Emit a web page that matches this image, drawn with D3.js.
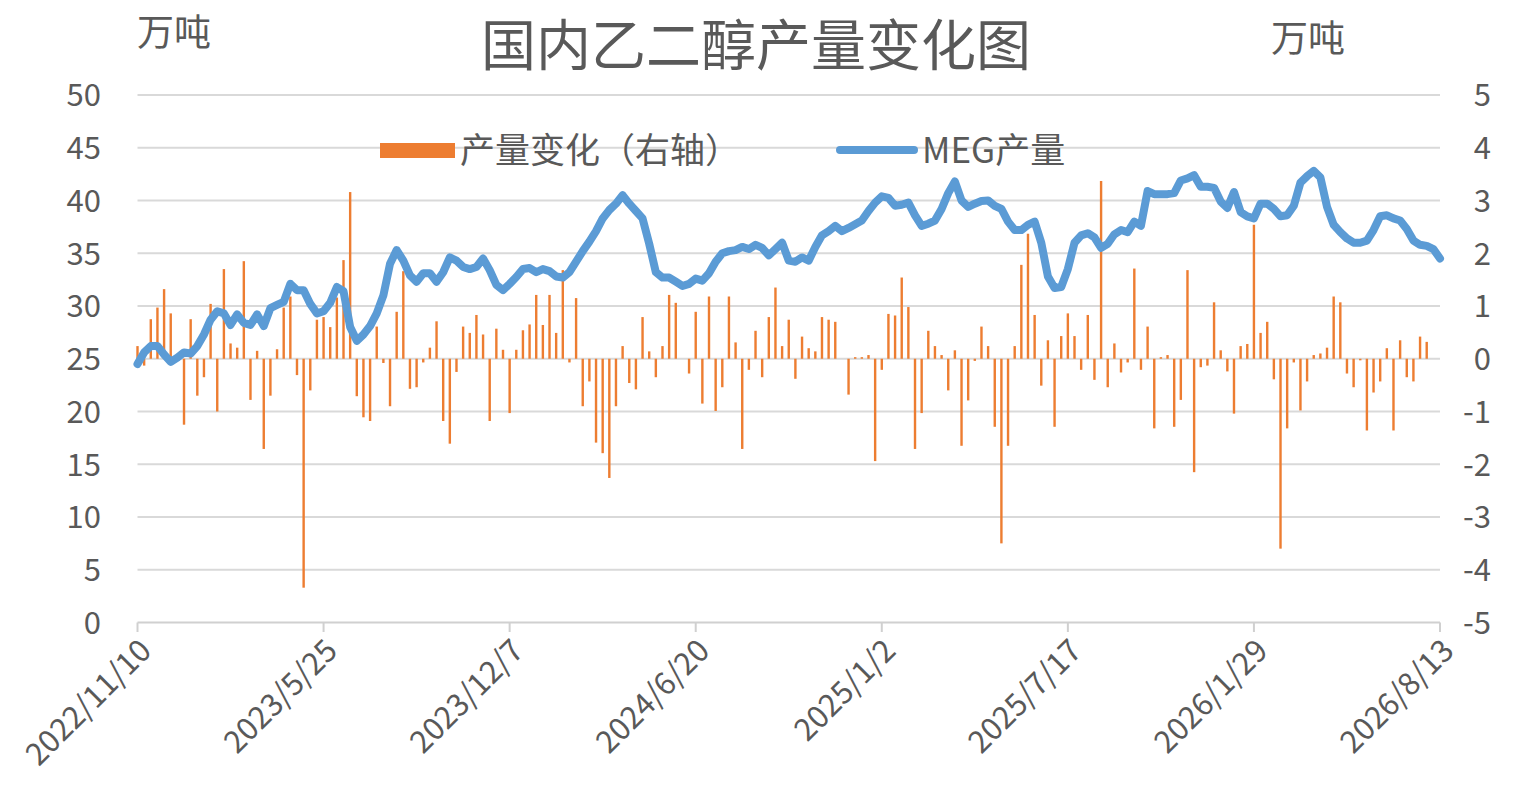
<!DOCTYPE html>
<html><head><meta charset="utf-8">
<script src="https://cdn.jsdelivr.net/npm/d3@7"></script>
<style>
html,body{margin:0;padding:0;background:#fff;}
text{font-family:"Noto Sans CJK SC","Microsoft YaHei",sans-serif;fill:#595959;}
</style></head>
<body><svg id="c" width="1514" height="796"></svg>
<script>
const tickLabels = ["2022/11/10","2023/5/25","2023/12/7","2024/6/20","2025/1/2","2025/7/17","2026/1/29","2026/8/13"];
const tickIndex = [0,28,56,84,112,140,168,196];
const leftTicks = [0,5,10,15,20,25,30,35,40,45,50];
const rightTicks = [-5,-4,-3,-2,-1,0,1,2,3,4,5];

// MEG production (万吨, left axis), weekly
const megOutput = [
24.5,25.6,26.2,26.2,25.4,24.7,25.1,25.6,25.5,26.2,
27.3,28.7,29.5,29.3,28.2,29.2,28.4,28.2,29.2,28.1,
29.8,30.1,30.4,32.1,31.5,31.5,30.2,29.3,29.5,30.3,
31.8,31.4,28.0,26.7,27.3,28.1,29.3,31.0,34.0,35.3,
34.3,32.9,32.3,33.1,33.1,32.3,33.2,34.6,34.3,33.7,
33.5,33.7,34.5,33.4,32.0,31.5,32.1,32.75,33.5,33.6,
33.2,33.5,33.3,32.8,32.7,33.2,34.2,35.2,36.1,37.1,
38.3,39.1,39.7,40.5,39.7,39.0,38.3,35.9,33.2,32.7,
32.7,32.3,31.9,32.1,32.6,32.4,33.1,34.2,35.0,35.2,
35.3,35.6,35.4,35.8,35.5,34.8,35.4,36.0,34.3,34.2,
34.6,34.3,35.6,36.7,37.1,37.6,37.1,37.4,37.75,38.1,
39.0,39.8,40.4,40.25,39.5,39.6,39.8,38.6,37.6,37.8,
38.1,39.2,40.7,41.8,40.0,39.4,39.7,39.95,40.0,39.5,
39.2,38.0,37.2,37.2,37.7,38.0,36.0,32.8,31.7,31.8,
33.5,36.0,36.7,36.9,36.5,35.5,35.9,36.8,37.2,37.0,
38.0,37.6,40.9,40.6,40.6,40.6,40.7,41.9,42.1,42.4,
41.3,41.3,41.2,39.9,39.3,40.8,38.9,38.5,38.3,39.7,
39.7,39.2,38.5,38.6,39.5,41.7,42.3,42.8,42.2,39.4,
37.7,37.0,36.4,36.0,36.0,36.2,37.2,38.5,38.6,38.3,
38.1,37.3,36.2,35.8,35.7,35.4,34.5
];

// weekly change (万吨, right axis)
const outputChange = [
0.24,-0.13,0.75,0.97,1.32,0.86,0,-1.25,0.75,-0.70,
-0.35,1.04,-1.0,1.70,0.29,0.21,1.85,-0.78,0.15,-1.71,
-0.70,0.18,0.97,1.18,-0.31,-4.34,-0.60,0.74,0.79,0.60,
1.16,1.87,3.16,-0.71,-1.11,-1.18,0.61,-0.08,-0.90,0.89,
1.66,-0.57,-0.54,-0.07,0.21,0.71,-1.18,-1.61,-0.25,0.61,
0.49,0.83,0.46,-1.18,0.57,0.17,-1.03,0.17,0.54,0.65,
1.21,0.64,1.21,0.49,1.68,-0.07,1.15,-0.90,-0.43,-1.59,
-1.79,-2.26,-0.90,0.24,-0.46,-0.58,0.79,0.14,-0.35,0.24,
1.21,1.06,0,-0.28,0.89,-0.85,1.18,-0.99,-0.54,1.18,
0.31,-1.71,-0.21,0.53,-0.35,0.79,1.35,0.24,0.74,-0.38,
0.42,0.20,0.14,0.79,0.74,0.70,0,-0.68,0.03,0.03,
0.07,-1.94,-0.21,0.85,0.82,1.54,0.98,-1.71,-1.03,0.53,
0.24,0.07,-0.60,0.16,-1.65,-0.79,-0.04,0.61,0.24,-1.29,
-3.50,-1.65,0.24,1.78,2.37,0.83,-0.51,0.35,-1.29,0.43,
0.86,0.43,-0.21,0.83,-0.40,3.37,-0.54,0.29,-0.26,-0.07,
1.71,-0.21,0.61,-1.32,0.03,0.07,-1.29,-0.78,1.68,-2.15,
-0.16,-0.13,1.07,0.16,-0.24,-1.04,0.24,0.28,2.54,0.49,
0.70,-0.39,-3.60,-1.32,-0.07,-0.98,-0.43,0.07,0.10,0.21,
1.18,1.07,-0.28,-0.54,-0.03,-1.36,-0.64,-0.43,0.20,-1.36,
0.35,-0.35,-0.43,0.42,0.32,0,0
];

const svg = d3.select("#c");
const x = d3.scaleLinear().domain([0,196]).range([137.5,1440]);
const yL = d3.scaleLinear().domain([0,50]).range([622.5,95]);
const yR = d3.scaleLinear().domain([-5,5]).range([622.5,95]);
const FONT = "'Noto Sans CJK SC',sans-serif";

// gridlines
svg.append("g").selectAll("line").data(leftTicks.filter(d=>d>0)).join("line")
  .attr("x1",137.5).attr("x2",1440)
  .attr("y1",d=>yL(d)).attr("y2",d=>yL(d))
  .attr("stroke","#d9d9d9").attr("stroke-width",2);

// left axis
const gl = svg.append("g").attr("transform","translate(101,0)")
  .call(d3.axisLeft(yL).tickValues(leftTicks).tickFormat(d=>String(d)).tickSize(0).tickPadding(0));
gl.select(".domain").remove();
gl.selectAll("text").attr("font-size",31).attr("fill","#595959")
  .style("font-family",FONT).attr("dy","0.35em");

// right axis
const gr = svg.append("g").attr("transform","translate(1491,0)")
  .call(d3.axisLeft(yR).tickValues(rightTicks).tickFormat(d=>String(d)).tickSize(0).tickPadding(0));
gr.select(".domain").remove();
gr.selectAll("text").attr("font-size",31).attr("fill","#595959")
  .style("font-family",FONT).attr("dy","0.35em");

// bars
svg.append("g").selectAll("rect").data(outputChange).join("rect")
  .attr("x",(d,i)=>x(i)-1.2).attr("width",2.4)
  .attr("y",d=>Math.min(yR(0),yR(d)))
  .attr("height",d=>Math.abs(yR(d)-yR(0)))
  .attr("fill","#ED7D31");

// x axis
svg.append("line").attr("x1",137.5).attr("x2",1440).attr("y1",622.5).attr("y2",622.5)
  .attr("stroke","#d0d0d0").attr("stroke-width",2);
svg.append("g").selectAll("line").data(tickIndex).join("line")
  .attr("x1",d=>x(d)).attr("x2",d=>x(d)).attr("y1",622.5).attr("y2",632)
  .attr("stroke","#d0d0d0").attr("stroke-width",2);
svg.append("g").selectAll("text").data(tickLabels).join("text")
  .attr("transform",(d,i)=>`translate(${x(tickIndex[i])+8},${645}) rotate(-45)`)
  .attr("text-anchor","end").attr("font-size",31).attr("dy","0.35em")
  .text(d=>d);

// line
svg.append("path").datum(megOutput)
  .attr("d",d3.line().x((d,i)=>x(i)).y(d=>yL(d)))
  .attr("fill","none").attr("stroke","#5B9BD5").attr("stroke-width",8)
  .attr("stroke-linejoin","round").attr("stroke-linecap","round");

// title & units
svg.append("text").attr("x",756).attr("y",65).attr("text-anchor","middle")
  .attr("font-size",55).text("国内乙二醇产量变化图");
svg.append("text").attr("x",137).attr("y",46).attr("font-size",37).text("万吨");
svg.append("text").attr("x",1271).attr("y",52).attr("font-size",37).text("万吨");

// legend
svg.append("rect").attr("x",380).attr("y",143).attr("width",75).attr("height",15).attr("fill","#ED7D31");
svg.append("text").attr("x",460).attr("y",163).attr("font-size",35).text("产量变化（右轴）");
svg.append("line").attr("x1",840).attr("x2",914).attr("y1",150).attr("y2",150)
  .attr("stroke","#5B9BD5").attr("stroke-width",8).attr("stroke-linecap","round");
svg.append("text").attr("x",922).attr("y",163).attr("font-size",35).text("MEG产量");
</script></body></html>
